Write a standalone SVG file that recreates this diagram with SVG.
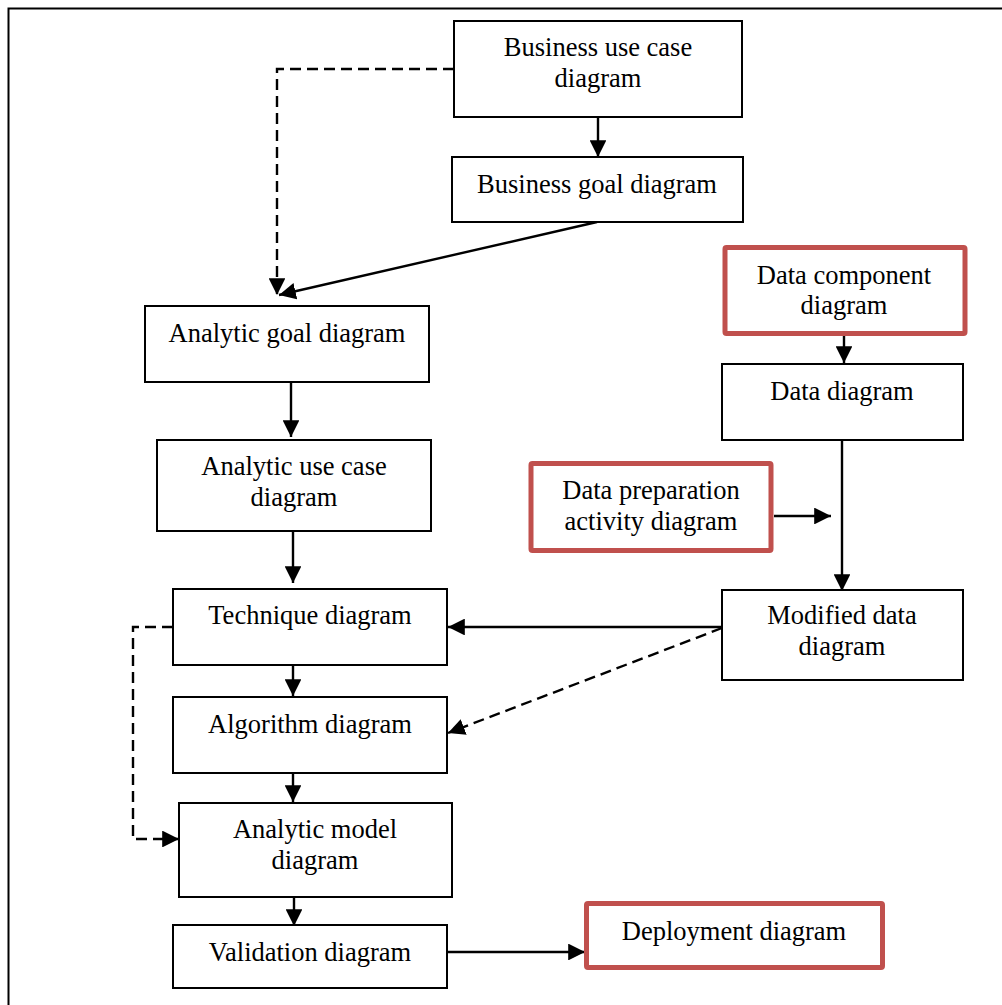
<svg xmlns="http://www.w3.org/2000/svg" width="1002" height="1005" viewBox="0 0 1002 1005">
  <style>
    .box { fill: #ffffff; stroke: #000000; stroke-width: 2; }
    .hl { fill: #ffffff; stroke: #c0504d; stroke-width: 5; }
    .lbl { font-family: "Liberation Serif", "Times New Roman", serif; font-size: 26.5px; fill: #000000; text-anchor: middle; }
    .edge { fill: none; stroke: #000000; stroke-width: 2.4; }
    .dash { stroke-dasharray: 11 6; }
  </style>
  <defs>
    <marker id="head" viewBox="0 0 10 10" refX="10" refY="5" markerWidth="7" markerHeight="7" markerUnits="strokeWidth" orient="auto">
      <path d="M0,0 L10,5 L0,10 Z" fill="#000000"/>
    </marker>
  </defs>

  <rect width="1002" height="1005" fill="#ffffff"/>
  <!-- outer frame (top and left edges) -->
  <path d="M8.5,1005 V8.5 H1002" fill="none" stroke="#000000" stroke-width="2"/>

  <g id="connectors">
    <path class="edge" d="M598,117 V157" marker-end="url(#head)"/>
    <path class="edge dash" d="M454,69 H277 V295" marker-end="url(#head)"/>
    <path class="edge" d="M597,222 L279,295" marker-end="url(#head)"/>
    <path class="edge" d="M291,382 V437" marker-end="url(#head)"/>
    <path class="edge" d="M293,531 V583" marker-end="url(#head)"/>
    <path class="edge" d="M293,665 V696" marker-end="url(#head)"/>
    <path class="edge" d="M293,773 V802" marker-end="url(#head)"/>
    <path class="edge" d="M294,897 V926" marker-end="url(#head)"/>
    <path class="edge dash" d="M173,627 H133 V839 H179" marker-end="url(#head)"/>
    <path class="edge" d="M844,336 V363" marker-end="url(#head)"/>
    <path class="edge" d="M842,440 V591" marker-end="url(#head)"/>
    <path class="edge" d="M774,516 H831" marker-end="url(#head)"/>
    <path class="edge" d="M722,627 H448" marker-end="url(#head)"/>
    <path class="edge dash" d="M722,628 L448,733" marker-end="url(#head)"/>
    <path class="edge" d="M447,952 H585" marker-end="url(#head)"/>
  </g>

  <g id="business-use-case">
    <rect class="box" x="454" y="21" width="288" height="96"/>
    <text class="lbl" x="598" y="56">Business use case</text>
    <text class="lbl" x="598" y="87">diagram</text>
  </g>
  <g id="business-goal">
    <rect class="box" x="452" y="157" width="291" height="65"/>
    <text class="lbl" x="597" y="193">Business goal diagram</text>
  </g>
  <g id="analytic-goal">
    <rect class="box" x="145" y="306" width="284" height="76"/>
    <text class="lbl" x="287" y="342">Analytic goal diagram</text>
  </g>
  <g id="analytic-use-case">
    <rect class="box" x="157" y="440" width="274" height="91"/>
    <text class="lbl" x="294" y="475">Analytic use case</text>
    <text class="lbl" x="294" y="506">diagram</text>
  </g>
  <g id="technique">
    <rect class="box" x="173" y="589" width="274" height="76"/>
    <text class="lbl" x="310" y="624">Technique diagram</text>
  </g>
  <g id="algorithm">
    <rect class="box" x="173" y="697" width="274" height="76"/>
    <text class="lbl" x="310" y="733">Algorithm diagram</text>
  </g>
  <g id="analytic-model">
    <rect class="box" x="179" y="803" width="273" height="94"/>
    <text class="lbl" x="315" y="838">Analytic model</text>
    <text class="lbl" x="315" y="869">diagram</text>
  </g>
  <g id="validation">
    <rect class="box" x="173" y="925" width="274" height="63"/>
    <text class="lbl" x="310" y="961">Validation diagram</text>
  </g>
  <g id="data-component">
    <rect class="hl" x="725" y="247.5" width="240" height="86" rx="1.5"/>
    <text class="lbl" x="844" y="284">Data component</text>
    <text class="lbl" x="844" y="314">diagram</text>
  </g>
  <g id="data">
    <rect class="box" x="722" y="364" width="241" height="76"/>
    <text class="lbl" x="842" y="400">Data diagram</text>
  </g>
  <g id="data-preparation">
    <rect class="hl" x="531" y="463.5" width="240" height="87" rx="1.5"/>
    <text class="lbl" x="651" y="499">Data preparation</text>
    <text class="lbl" x="651" y="530">activity diagram</text>
  </g>
  <g id="modified-data">
    <rect class="box" x="722" y="590" width="241" height="90"/>
    <text class="lbl" x="842" y="624">Modified data</text>
    <text class="lbl" x="842" y="655">diagram</text>
  </g>
  <g id="deployment">
    <rect class="hl" x="586.5" y="903.5" width="296" height="64" rx="1.5"/>
    <text class="lbl" x="734" y="940">Deployment diagram</text>
  </g>
</svg>
